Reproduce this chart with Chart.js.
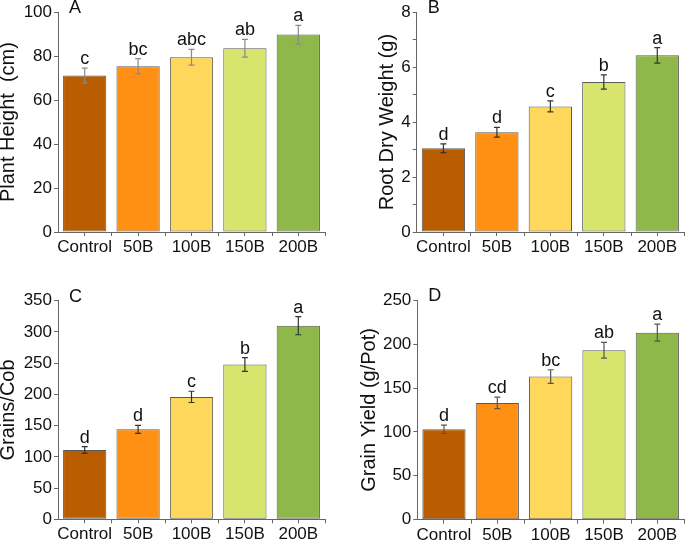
<!DOCTYPE html>
<html>
<head>
<meta charset="utf-8">
<script src="https://cdn.jsdelivr.net/npm/chart.js@4.4.1/dist/chart.umd.min.js"></script>
<style>
  html, body { margin: 0; padding: 0; background: #fff; }
  body { width: 685px; height: 541px; position: relative; overflow: hidden; }
  .panel { position: absolute; }
</style>
</head>
<body>
<div class="panel" style="left:0;top:0;width:340px;height:262px"><canvas id="chartA"></canvas></div>
<div class="panel" style="left:340px;top:0;width:345px;height:262px"><canvas id="chartB"></canvas></div>
<div class="panel" style="left:0;top:288px;width:340px;height:253px"><canvas id="chartC"></canvas></div>
<div class="panel" style="left:340px;top:288px;width:345px;height:253px"><canvas id="chartD"></canvas></div>
<script>
const treatments = ["Control", "50B", "100B", "150B", "200B"];
const barColors = ["#ba5c00", "#ff9014", "#ffd75a", "#d8e56c", "#8eb84a"];

// A - plant height
const heightMean = [71.2, 75.4, 79.5, 83.6, 89.8];
const heightErr = [3.4, 3.5, 3.6, 4.0, 4.2];
const heightLetters = ["c", "bc", "abc", "ab", "a"];

// B - root dry weight
const rootMean = [3.05, 3.63, 4.57, 5.46, 6.43];
const rootErr = [0.16, 0.18, 0.2, 0.26, 0.28];
const rootLetters = ["d", "d", "c", "b", "a"];

// C - grains per cob
const grainsMean = [111, 144, 196, 248, 310];
const grainsErr = [5.5, 6.5, 9, 11, 14.5];
const grainsLetters = ["d", "d", "c", "b", "a"];

// D - grain yield
const yieldMean = [103, 133, 163, 193, 213];
const yieldErr = [4.8, 6.5, 7.8, 9, 9.7];
const yieldLetters = ["d", "cd", "bc", "ab", "a"];

const FONT = "'Liberation Sans', Arial, sans-serif";

const extras = {
  id: "extras",
  afterDatasetsDraw(chart, args, opts) {
    const ctx = chart.ctx;
    const y = chart.scales.y;
    const x = chart.scales.x;
    const meta = chart.getDatasetMeta(0);
    const vals = chart.data.datasets[0].data;
    ctx.save();
    // error bars + letters
    meta.data.forEach((bar, i) => {
      const top = y.getPixelForValue(vals[i] + opts.errors[i]);
      const bot = y.getPixelForValue(vals[i] - opts.errors[i]);
      ctx.strokeStyle = opts.errColor;
      ctx.lineWidth = 1.2;
      ctx.beginPath();
      ctx.moveTo(bar.x, top); ctx.lineTo(bar.x, bot);
      ctx.moveTo(bar.x - 3, top); ctx.lineTo(bar.x + 3, top);
      ctx.moveTo(bar.x - 3, bot); ctx.lineTo(bar.x + 3, bot);
      ctx.stroke();
      ctx.fillStyle = "#111";
      ctx.font = "18px " + FONT;
      ctx.textAlign = "center";
      ctx.textBaseline = "alphabetic";
      ctx.fillText(opts.letters[i], bar.x, top - 4);
    });
    // minor x ticks at category boundaries
    ctx.strokeStyle = "#666";
    ctx.lineWidth = 1;
    ctx.beginPath();
    for (let i = 0; i < vals.length; i++) {
      const px = Math.round((x.getPixelForValue(i) + x.getPixelForValue(i + 1)) / 2) + 0.5;
      ctx.moveTo(px, x.top); ctx.lineTo(px, x.top + 4);
    }
    ctx.stroke();
    // panel letter
    ctx.fillStyle = "#111";
    ctx.font = "18px " + FONT;
    ctx.textAlign = "left";
    ctx.textBaseline = "middle";
    ctx.fillText(opts.panel, chart.chartArea.left + 11, chart.chartArea.top - 4);
    ctx.restore();
  }
};

function makeChart(id, cfg) {
  return new Chart(document.getElementById(id), {
    type: "bar",
    data: {
      labels: treatments,
      datasets: [{
        data: cfg.values,
        backgroundColor: barColors,
        borderColor: "#5a5a5a",
        borderWidth: 1,
        borderSkipped: false,
        barPercentage: 0.9,
        categoryPercentage: 0.9
      }]
    },
    options: {
      responsive: true,
      maintainAspectRatio: false,
      animation: false,
      layout: { padding: cfg.padding },
      plugins: {
        legend: { display: false },
        tooltip: { enabled: false },
        extras: { errors: cfg.errors, letters: cfg.letters, errColor: cfg.errColor, panel: cfg.panel }
      },
      scales: {
        x: {
          grid: { display: true, offset: false, drawOnChartArea: false, tickLength: 4, color: "#666" },
          border: { display: true, color: "#666", width: 1 },
          ticks: {
            color: "#111", padding: 1, maxRotation: 0, minRotation: 0, autoSkip: false,
            font: { family: FONT, size: 17 }
          },
          afterFit(scale) { scale.height = cfg.xHeight; }
        },
        y: {
          min: 0,
          max: cfg.max,
          grid: { display: true, drawOnChartArea: false, tickLength: 4, color: "#666" },
          border: { display: true, color: "#666", width: 1 },
          ticks: {
            stepSize: cfg.minor,
            color: "#111",
            padding: 2,
            font: { family: FONT, size: 17 },
            callback: (v) => (Math.abs(v / cfg.major - Math.round(v / cfg.major)) < 1e-6 ? v : "")
          },
          title: {
            display: true,
            text: cfg.title,
            color: "#111",
            padding: 0,
            font: { family: FONT, size: 20, lineHeight: 0.8 }
          },
          afterFit(scale) { scale.width = cfg.yWidth; }
        }
      }
    },
    plugins: [extras]
  });
}

makeChart("chartA", {
  values: heightMean, errors: heightErr, letters: heightLetters, panel: "A",
  title: "Plant Height  (cm)", max: 100, major: 20, minor: 10, errColor: "#8a8a8a",
  padding: { left: 0, top: 12, right: 15, bottom: 0 }, yWidth: 58, xHeight: 30
});
makeChart("chartB", {
  values: rootMean, errors: rootErr, letters: rootLetters, panel: "B",
  title: "Root Dry Weight (g)", max: 8, major: 2, minor: 1, errColor: "#333",
  padding: { left: 39.5, top: 12, right: 1, bottom: 0 }, yWidth: 37.2, xHeight: 30
});
makeChart("chartC", {
  values: grainsMean, errors: grainsErr, letters: grainsLetters, panel: "C",
  title: "Grains/Cob", max: 350, major: 50, minor: 25, errColor: "#333",
  padding: { left: 0, top: 12.7, right: 15, bottom: 0 }, yWidth: 58, xHeight: 21.7
});
makeChart("chartD", {
  values: yieldMean, errors: yieldErr, letters: yieldLetters, panel: "D",
  title: "Grain Yield (g/Pot)", max: 250, major: 50, minor: 25, errColor: "#555",
  padding: { left: 21, top: 12, right: 1, bottom: 0 }, yWidth: 56.3, xHeight: 21.3
});
</script>
</body>
</html>
